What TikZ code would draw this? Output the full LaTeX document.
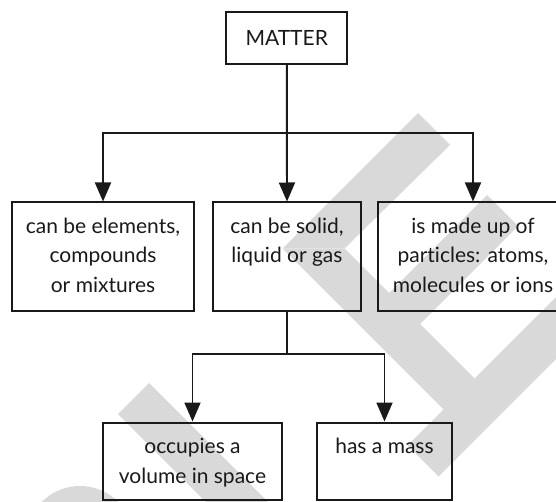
\documentclass[tikz,border=0pt]{standalone}
\usepackage{fontspec}
\setmainfont{Lato}[Ligatures=NoCommon]
\usetikzlibrary{arrows.meta}
\definecolor{wm}{RGB}{217,217,217}
\definecolor{ink}{RGB}{25,25,25}
\tikzset{
  box/.style={draw=ink, line width=2pt, inner sep=0pt},
  txt/.style={anchor=north, inner sep=0pt, align=center, text=ink,
    font=\fontsize{21pt}{29.3pt}\selectfont},
  conn/.style={draw=ink, line width=1.9pt},
  arr/.style={conn, -{Triangle[length=19pt,width=16pt]}},
  wmark/.style={fill=wm, draw=none}
}
\newcommand{\fst}{\rule{0pt}{20pt}}
\begin{document}
\begin{tikzpicture}[x=1pt,y=-1pt]
\useasboundingbox (0,0) rectangle (556,502);
% watermark
\fill[wmark] (418,113) -- (450,145) -- (344.5,248.5) -- (282.5,248.5) -- cycle;
\fill[wmark] (282.5,248.5) -- (344.5,248.5) -- (483,387) -- (452,418) -- cycle;
\fill[wmark] (487,195) -- (518,226) -- (402,342) -- (371,311) -- cycle;
\fill[wmark] (407.5,445.5) -- (438.5,476.5) -- (620,295) -- (620,233) -- cycle;
\fill[wmark] (149,383) -- (118,414) -- (330,626) -- (392,626) -- cycle;
\fill[wmark] (80,540) circle (54);
% boxes
\node[box, minimum width=121pt, minimum height=52pt] (matter) at (286.7,38.5) {};
\node[box, minimum width=182pt, minimum height=108pt] (left) at (103,256.5) {};
\node[box, minimum width=148pt, minimum height=108pt] (mid) at (287,256.5) {};
\node[box, minimum width=190pt, minimum height=108pt] (right) at (473,256.5) {};
\node[box, minimum width=179pt, minimum height=77pt] (bl) at (192.5,461) {};
\node[box, minimum width=135pt, minimum height=77pt] (br) at (384.5,461) {};
% texts
\node[txt] (tmatter) at (286.7,25) {\fst MATTER};
\node[txt] (tleft) at (103,213.5) {\fst can be elements,\\compounds\\or mixtures};
\node[txt] (tmid) at (287,213.5) {\fst can be solid,\\liquid or gas};
\node[txt] (tright) at (473,213.5) {\fst is made up of\\particles: atoms,\\molecules or ions};
\node[txt] (tbl) at (192.5,433.5) {\fst occupies a\\volume in space};
\node[txt] (tbr) at (384.5,433.5) {\fst has a mass};
% connectors
\coordinate (j1) at (286.7,133);
\coordinate (j2) at (287,354);
\draw[conn] (matter.south) -- (j1);
\draw[arr] (j1) -| (left.north);
\draw[arr] (matter.south) -- (mid.north);
\draw[arr] (j1) -| (right.north);
\draw[conn] (mid.south) -- (j2);
\draw[arr] (j2) -| (bl.north);
\draw[arr] (j2) -| (br.north);
\end{tikzpicture}
\end{document}
